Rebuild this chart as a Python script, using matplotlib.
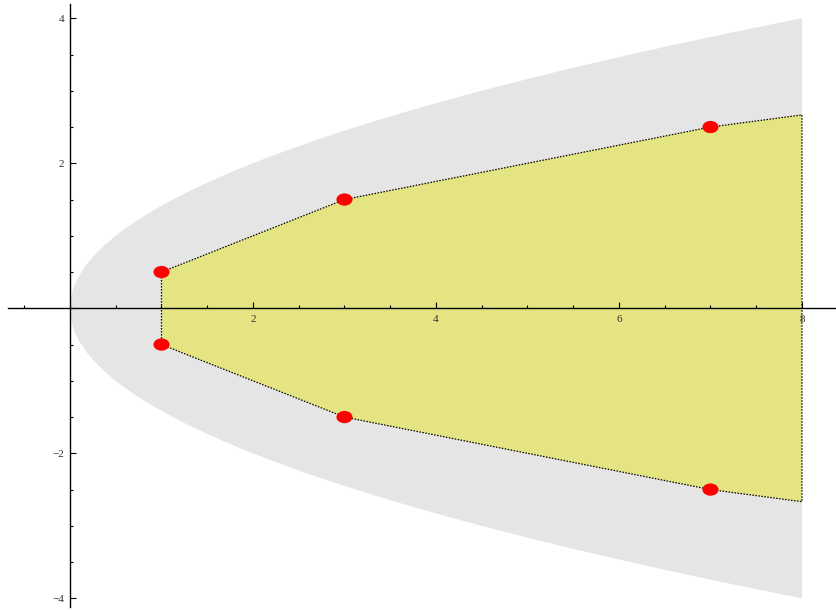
import numpy as np
import matplotlib
matplotlib.use("Agg")
import matplotlib.pyplot as plt
from matplotlib.patches import Ellipse
from matplotlib.ticker import MultipleLocator, FuncFormatter

# Feasible-region vertices (upper half; lower half is mirrored)
vertex_x = [1, 3, 7]
vertex_y = [0.5, 1.5, 2.5]
# Right-hand cut of the shaded polygon
cut_x = 8
cut_y = 2.667
# Parabola envelope y^2 = 2x, drawn for 0 <= x <= 8
parabola_k = 2.0
parabola_xmax = 8

x_ticks = [2, 4, 6, 8]
y_ticks = [-4, -2, 2, 4]

fig = plt.figure(figsize=(8.36, 6.10), dpi=100)
ax = fig.add_axes([0, 0, 1, 1])
ax.set_xlim(-0.765, 8.372)
ax.set_ylim(-4.161, 4.252)
ax.set_axisbelow(False)

# gray parabolic region
yy = np.linspace(-np.sqrt(parabola_k * parabola_xmax), np.sqrt(parabola_k * parabola_xmax), 400)
xx = yy ** 2 / parabola_k
ax.fill(np.r_[xx, parabola_xmax], np.r_[yy, yy[0]], color="#e5e5e5", lw=0, zorder=0.5)

# yellow polygon
px = [vertex_x[0]] + vertex_x + [cut_x, cut_x] + vertex_x[::-1]
py = [-vertex_y[0]] + vertex_y + [cut_y, -cut_y] + [-v for v in vertex_y[::-1]]
ax.fill(px, py, color="#e4e482", lw=0, zorder=0.6)
ax.plot(px + [px[0]], py + [py[0]], color="black", lw=0.9,
        linestyle=(0, (1.2, 1.2)), zorder=3)

# vertex markers as data-space disks
r = 0.088
for vx, vy in zip(vertex_x, vertex_y):
    for s in (1, -1):
        ax.add_patch(Ellipse((vx, s * vy), 2 * r, 2 * r * 0.96,
                             color="#ff0000", lw=0, zorder=5))

# axes through the origin
for side in ("top", "right"):
    ax.spines[side].set_visible(False)
ax.spines["bottom"].set_position(("data", 0))
ax.spines["left"].set_position(("data", 0))
ax.spines["bottom"].set_bounds(-0.68, 8.372)
ax.spines["left"].set_bounds(-4.12, 4.2)
for s in ("bottom", "left"):
    ax.spines[s].set_linewidth(1.0)
    ax.spines[s].set_zorder(2.6)

ax.xaxis.set_major_locator(plt.FixedLocator(x_ticks))
ax.yaxis.set_major_locator(plt.FixedLocator(y_ticks))
ax.xaxis.set_minor_locator(MultipleLocator(0.5))
ax.yaxis.set_minor_locator(MultipleLocator(0.5))
fmt = FuncFormatter(lambda v, p: f"{int(v)}".replace("-", "\u2212"))
ax.xaxis.set_major_formatter(fmt)
ax.yaxis.set_major_formatter(fmt)
ax.tick_params(which="both", direction="in", width=0.8, color="black")
ax.tick_params(which="major", length=4)
ax.tick_params(which="minor", length=2)
ax.tick_params(axis="x", which="major", pad=5)
ax.tick_params(axis="y", which="major", pad=4)
for lab in ax.get_xticklabels() + ax.get_yticklabels():
    lab.set_fontfamily("Liberation Serif")
    lab.set_fontsize(8)
    lab.set_color("#333333")

fig.savefig("out.png", dpi=100)
